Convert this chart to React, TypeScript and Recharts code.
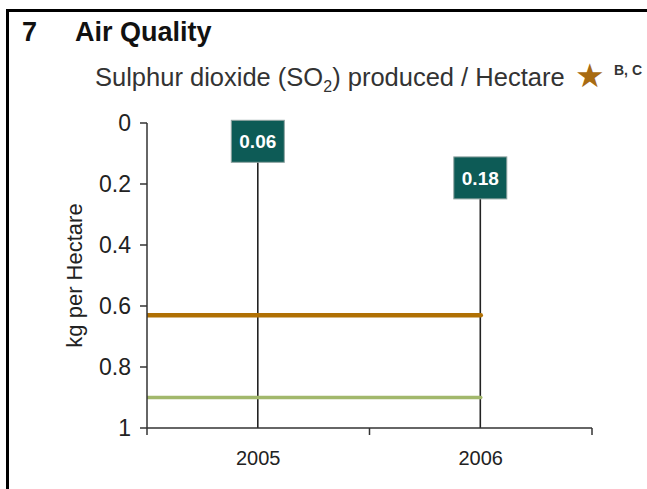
import React from 'react';
import { ComposedChart, Bar, Line, XAxis, YAxis, LabelList, Label } from 'recharts';

const years = ['2005', '2006'];
const so2PerHectare = [0.06, 0.18];
const yTicks = [0, 0.2, 0.4, 0.6, 0.8, 1];
const upperTarget = 0.63;
const lowerTarget = 0.9;
// target lines, in category index space: from the axis edge to 2006
const targetStart = -0.5;
const targetEnd = 1;

const yMax = yTicks[yTicks.length - 1];

const data = years.map((year, i) => ({
  year,
  value: so2PerHectare[i],
  stem: [so2PerHectare[i], yMax],
}));
const upperLine = [targetStart, targetEnd].map((x) => ({ x, v: upperTarget }));
const lowerLine = [targetStart, targetEnd].map((x) => ({ x, v: lowerTarget }));

const FONT = '"Liberation Sans", Arial, sans-serif';
const AXIS = '#333';

const YearTick = (props: any) => {
  const { x, y, payload, index, visibleTicksCount, width } = props;
  const half = payload && payload.offset ? payload.offset : width / (2 * visibleTicksCount);
  const last = index === visibleTicksCount - 1;
  return (
    <g>
      <line x1={x - half} x2={x - half} y1={y} y2={y + 7} stroke={AXIS} strokeWidth={1.5} />
      {last && <line x1={x + half} x2={x + half} y1={y} y2={y + 7} stroke={AXIS} strokeWidth={1.5} />}
      <text x={x} y={y + 37} textAnchor="middle" fontSize={20} fill="#222" fontFamily={FONT}>
        {payload.value}
      </text>
    </g>
  );
};

const ValueBox = (props: any) => {
  const { x, y, width, height, value } = props;
  const cx = x + width / 2;
  const cy = Math.min(y, y + height);
  return (
    <g>
      <rect x={cx - 26.5} y={cy - 21} width={53} height={42} fill="#0D5B56" stroke="#8fa3a1" strokeWidth={1} />
      <text x={cx} y={cy + 7} textAnchor="middle" fontSize={19} fontWeight="bold" fill="#fff" fontFamily={FONT}>
        {value.toFixed(2)}
      </text>
    </g>
  );
};

export default function App() {
  return (
    <div style={{ position: 'absolute', left: 0, top: 0, width: 647, height: 489, background: '#fff', fontFamily: FONT }}>
      <div style={{ position: 'absolute', left: 6, top: 9, right: 0, borderTop: '3px solid #000' }} />
      <div style={{ position: 'absolute', left: 6, top: 9, bottom: 0, borderLeft: '3px solid #000' }} />
      <svg width={647} height={100} style={{ position: 'absolute', left: 0, top: 0 }}>
        <text x={22} y={41} fontSize={27} fontWeight="bold" fill="#111" fontFamily={FONT}>7</text>
        <text x={75} y={41} fontSize={27} fontWeight="bold" fill="#111" fontFamily={FONT}>
          Air Quality
        </text>
        <text x={95} y={86} fontSize={25.5} fill="#333" fontFamily={FONT}>
          Sulphur dioxide (SO<tspan fontSize={16} dy={6}>2</tspan><tspan dy={-6}>) produced / Hectare</tspan>
        </text>
        <text x={575} y={87} fontSize={33} fill="#A86B12" fontFamily="DejaVu Sans">★</text>
        <text x={614} y={75} fontSize={14} fontWeight="bold" fill="#333" fontFamily={FONT}>B, C</text>
      </svg>
      <div style={{ position: 'absolute', left: 0, top: 0 }}>
        <ComposedChart width={647} height={489} data={data} margin={{ top: 123, right: 55, bottom: 21, left: 0 }}>
          <XAxis
            dataKey="year"
            type="category"
            height={40}
            axisLine={{ stroke: AXIS, strokeWidth: 1.5 }}
            tickLine={false}
            tickSize={0}
            tickMargin={0}
            tick={<YearTick />}
            interval={0}
          />
          <XAxis
            xAxisId="idx"
            type="number"
            orientation="top"
            dataKey="x"
            domain={[targetStart, years.length - 0.5]}
            allowDataOverflow
            height={0}
            tick={false}
            tickLine={false}
            axisLine={{ stroke: AXIS, strokeWidth: 1.5 }}
          />
          <YAxis
            type="number"
            domain={[0, yMax]}
            reversed
            ticks={yTicks}
            width={147}
            tickSize={7}
            tickMargin={9}
            axisLine={{ stroke: AXIS, strokeWidth: 1.5 }}
            tickLine={{ stroke: AXIS, strokeWidth: 1.5 }}
            tick={{ fontSize: 23, fill: '#222', fontFamily: FONT }}
          >
            <Label
              content={({ viewBox }: any) => {
                const cx = viewBox.x + 74;
                const cy = viewBox.y + viewBox.height / 2;
                return (
                  <text x={cx} y={cy} transform={`rotate(-90 ${cx} ${cy})`} textAnchor="middle" dominantBaseline="central" fontSize={22} fill="#222" fontFamily={FONT}>
                    kg per Hectare
                  </text>
                );
              }}
            />
          </YAxis>
          <YAxis
            yAxisId="frame"
            orientation="right"
            type="number"
            domain={[0, yMax]}
            width={0}
            tick={false}
            tickLine={false}
            axisLine={{ stroke: AXIS, strokeWidth: 1.5 }}
          />
          <Line data={upperLine} xAxisId="idx" dataKey="v" stroke="#B07004" strokeWidth={4.5} dot={false} strokeLinecap="round" isAnimationActive={false} />
          <Line data={lowerLine} xAxisId="idx" dataKey="v" stroke="#A2B86C" strokeWidth={3.5} dot={false} strokeLinecap="round" isAnimationActive={false} />
          <Bar dataKey="stem" barSize={1.6} fill="#222" isAnimationActive={false}>
            <LabelList dataKey="value" content={<ValueBox />} />
          </Bar>
        </ComposedChart>
      </div>
    </div>
  );
}
